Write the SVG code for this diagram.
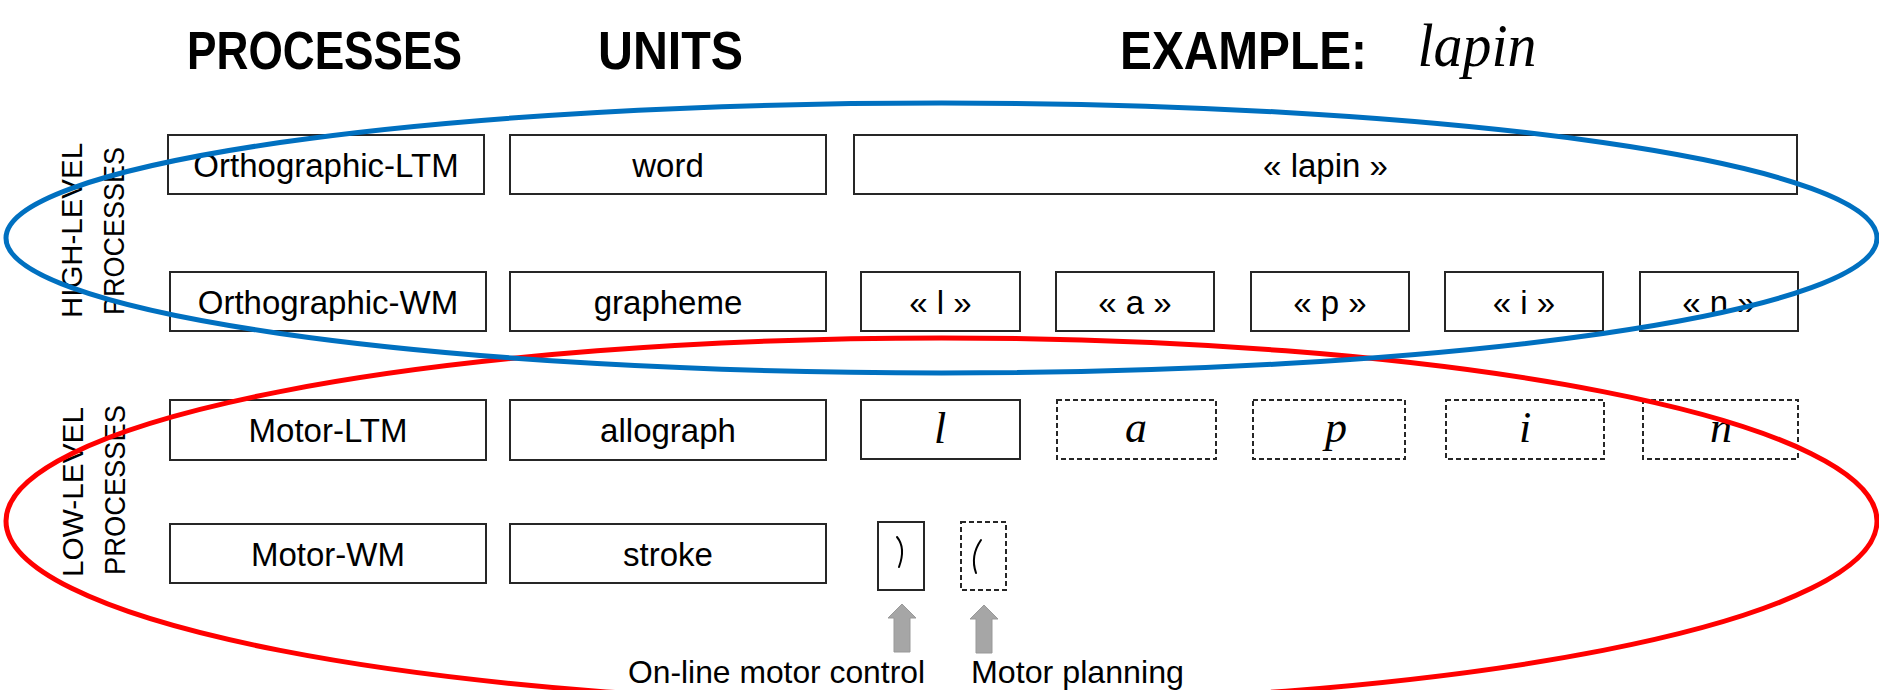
<svg xmlns="http://www.w3.org/2000/svg" width="1879" height="690" viewBox="0 0 1879 690">
<style>
.box{fill:#fff;stroke:#262626;stroke-width:2}
.dash{stroke-dasharray:5 3}
.lbl{font-family:"Liberation Sans",Arial,sans-serif;font-size:33px;text-anchor:middle;fill:#000}
.hdr{font-family:"Liberation Sans",Arial,sans-serif;font-size:54px;font-weight:bold;fill:#000}
.side{font-family:"Liberation Sans",Arial,sans-serif;font-size:30px;text-anchor:middle;fill:#000}
.cur{font-family:"Liberation Serif","Times New Roman",serif;font-style:italic;font-size:44px;text-anchor:middle;fill:#000}
.note{font-family:"Liberation Sans",Arial,sans-serif;font-size:32px;fill:#000}
.arrow{fill:#A6A6A6;stroke:#999;stroke-width:1}
.stk{fill:none;stroke:#000;stroke-width:2;stroke-linecap:round}
</style>
<rect width="1879" height="690" fill="#fff"/>
<g id="headers">
<text class="hdr" x="187" y="69" textLength="275" lengthAdjust="spacingAndGlyphs">PROCESSES</text>
<text class="hdr" x="598" y="69" textLength="145" lengthAdjust="spacingAndGlyphs">UNITS</text>
<text class="hdr" x="1120" y="69" textLength="247" lengthAdjust="spacingAndGlyphs">EXAMPLE:</text>
<text x="1477" y="66" style="font-family:'Liberation Serif','Times New Roman',serif;font-style:italic;font-size:62px;text-anchor:middle" textLength="119" lengthAdjust="spacingAndGlyphs">lapin</text>
</g>
<g id="side-labels">
<text class="side" transform="translate(81.5,230.5) rotate(-90)" textLength="175" lengthAdjust="spacingAndGlyphs">HIGH-LEVEL</text>
<text class="side" transform="translate(123.5,231) rotate(-90)" textLength="168" lengthAdjust="spacingAndGlyphs">PROCESSES</text>
<text class="side" transform="translate(82.5,492) rotate(-90)" textLength="170" lengthAdjust="spacingAndGlyphs">LOW-LEVEL</text>
<text class="side" transform="translate(124.5,490) rotate(-90)" textLength="170" lengthAdjust="spacingAndGlyphs">PROCESSES</text>
</g>
<g id="n-ortho-ltm"><rect class="box" x="168" y="135" width="316" height="59"/><text class="lbl" x="326" y="176.5">Orthographic-LTM</text></g>
<g id="n-word"><rect class="box" x="510" y="135" width="316" height="59"/><text class="lbl" x="668" y="176.5">word</text></g>
<g id="n-lapin"><rect class="box" x="854" y="135" width="943" height="59"/><text class="lbl" x="1325.5" y="176.5">« lapin »</text></g>
<g id="n-ortho-wm"><rect class="box" x="170" y="272" width="316" height="59"/><text class="lbl" x="328" y="313.5">Orthographic-WM</text></g>
<g id="n-grapheme"><rect class="box" x="510" y="272" width="316" height="59"/><text class="lbl" x="668" y="313.5">grapheme</text></g>
<g id="n-g-l"><rect class="box" x="861" y="272" width="159" height="59"/><text class="lbl" x="940.5" y="313.5">« l »</text></g>
<g id="n-g-a"><rect class="box" x="1056" y="272" width="158" height="59"/><text class="lbl" x="1135" y="313.5">« a »</text></g>
<g id="n-g-p"><rect class="box" x="1251" y="272" width="158" height="59"/><text class="lbl" x="1330" y="313.5">« p »</text></g>
<g id="n-g-i"><rect class="box" x="1445" y="272" width="158" height="59"/><text class="lbl" x="1524" y="313.5">« i »</text></g>
<g id="n-g-n"><rect class="box" x="1640" y="272" width="158" height="59"/><text class="lbl" x="1719" y="313.5">« n »</text></g>
<g id="n-motor-ltm"><rect class="box" x="170" y="400" width="316" height="60"/><text class="lbl" x="328" y="442">Motor-LTM</text></g>
<g id="n-allograph"><rect class="box" x="510" y="400" width="316" height="60"/><text class="lbl" x="668" y="442">allograph</text></g>
<g id="n-a-l"><rect class="box" x="861" y="400" width="159" height="59"/><text class="cur" x="940" y="443">l</text></g>
<g id="n-a-a"><rect class="box dash" x="1057" y="400" width="159" height="59"/><text class="cur" x="1136" y="442">a</text></g>
<g id="n-a-p"><rect class="box dash" x="1253" y="400" width="152" height="59"/><text class="cur" x="1336" y="442">p</text></g>
<g id="n-a-i"><rect class="box dash" x="1446" y="400" width="158" height="59"/><text class="cur" x="1525" y="442">i</text></g>
<g id="n-a-n"><rect class="box dash" x="1643" y="400" width="155" height="59"/><text class="cur" x="1721" y="442">n</text></g>
<g id="n-motor-wm"><rect class="box" x="170" y="524" width="316" height="59"/><text class="lbl" x="328" y="565.5">Motor-WM</text></g>
<g id="n-stroke"><rect class="box" x="510" y="524" width="316" height="59"/><text class="lbl" x="668" y="565.5">stroke</text></g>
<g id="n-s1"><rect class="box" x="878" y="522" width="46" height="68"/><path class="stk" d="M897,537 Q906,548 899,567"/></g>
<g id="n-s2"><rect class="box dash" x="961" y="522" width="45" height="68"/><path class="stk" d="M981,540 Q970,556 976,573"/></g>
<g id="connectors">
<polygon class="arrow" points="902,604 916,618 910,618 910,652 894,652 894,618 888,618"/>
<polygon class="arrow" points="984,605 998,619 992,619 992,653 976,653 976,619 970,619"/>
</g>
<g id="notes">
<text class="note" x="628" y="683" textLength="297" lengthAdjust="spacingAndGlyphs">On-line motor control</text>
<text class="note" x="971" y="683" textLength="213" lengthAdjust="spacingAndGlyphs">Motor planning</text>
</g>
<g id="groupings">
<ellipse cx="941.5" cy="521" rx="935.5" ry="183" fill="none" stroke="#FF0000" stroke-width="5"/>
<ellipse cx="941.5" cy="238" rx="935.5" ry="135" fill="none" stroke="#0070C0" stroke-width="5"/>
</g>
</svg>
